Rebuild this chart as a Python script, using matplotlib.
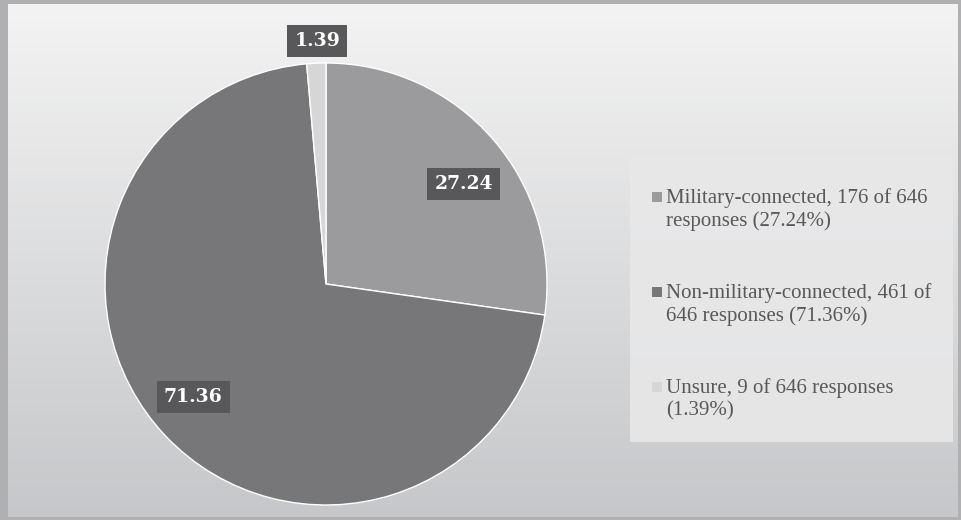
import numpy as np
import matplotlib.pyplot as plt
from matplotlib.patches import Rectangle

#%% data
categories = ['Military-connected', 'Non-military-connected', 'Unsure']
counts = [176, 461, 9]
total = 646
percents = [27.24, 71.36, 1.39]
colors = ['#9b9b9d', '#77777a', '#d6d6d6']
label_radius = [0.77, 0.79, 1.10]
label_turn = [-5, -3, -0.5]   # small angular nudges (deg) for the data labels

#%% figure + background
W, H = 962, 520
fig = plt.figure(figsize=(W / 100, H / 100), dpi=100)

bg = fig.add_axes([0, 0, 1, 1])
bg.set_xlim(0, W)
bg.set_ylim(H, 0)
bg.axis('off')
grad = np.linspace(0, 1, 256).reshape(-1, 1)
top = np.array([0.955, 0.955, 0.955])
bot = np.array([0.775, 0.78, 0.79])
img = top + (bot - top) * grad[..., None]
bg.imshow(img, extent=(0, W, H, 0), aspect='auto', interpolation='bilinear')
# outer grey frame
bg.add_patch(Rectangle((0, 0), W, 4, color='#b0b0b2', lw=0))
bg.add_patch(Rectangle((0, 0), 8, H, color='#b0b0b2', lw=0))
bg.add_patch(Rectangle((W - 4, 0), 4, H, color='#b0b0b2', lw=0))
bg.add_patch(Rectangle((0, H - 3), W, 3, color='#b0b0b2', lw=0))

# legend panel
bg.add_patch(Rectangle((630, 158), 323, 284, facecolor='#e8e8e9', edgecolor='none', alpha=0.9))

#%% pie
cx, cy, r = 326, 284, 221
ax = fig.add_axes([(cx - r) / W, (H - cy - r) / H, 2 * r / W, 2 * r / H])
wedges, _ = ax.pie(counts, colors=colors, startangle=90, counterclock=False,
                   wedgeprops={'edgecolor': 'white', 'linewidth': 1.0})
ax.set_xlim(-1, 1)
ax.set_ylim(-1, 1)
ax.set_aspect('equal')

for w, pct, rr, dt in zip(wedges, percents, label_radius, label_turn):
    ang = np.deg2rad((w.theta1 + w.theta2) / 2 + dt)
    ax.text(rr * np.cos(ang), rr * np.sin(ang), '%.2f' % pct, ha='center', va='center',
            family='DejaVu Serif', fontsize=13.5, fontweight='bold', color='white',
            bbox=dict(boxstyle='square,pad=0.38', facecolor='#58585a', edgecolor='none'))

#%% legend (manual, two-line entries)
legend_lines = [
    ['%s, %d of %d' % (categories[0], counts[0], total), 'responses (%.2f%%)' % percents[0]],
    ['%s, %d of' % (categories[1], counts[1]), '%d responses (%.2f%%)' % (total, percents[1])],
    ['%s, %d of %d responses' % (categories[2], counts[2], total), '(%.2f%%)' % percents[2]],
]
y0 = 198
for i, lines in enumerate(legend_lines):
    yy = y0 + i * 95
    bg.add_patch(Rectangle((652, yy - 6), 10, 10, facecolor=colors[i], edgecolor='none'))
    bg.text(666, yy, lines[0], ha='left', va='center', fontsize=15,
            family='Liberation Serif', color='#58585a')
    bg.text(666, yy + 23, lines[1], ha='left', va='center', fontsize=15,
            family='Liberation Serif', color='#58585a')

plt.savefig('out.png', dpi=100)
